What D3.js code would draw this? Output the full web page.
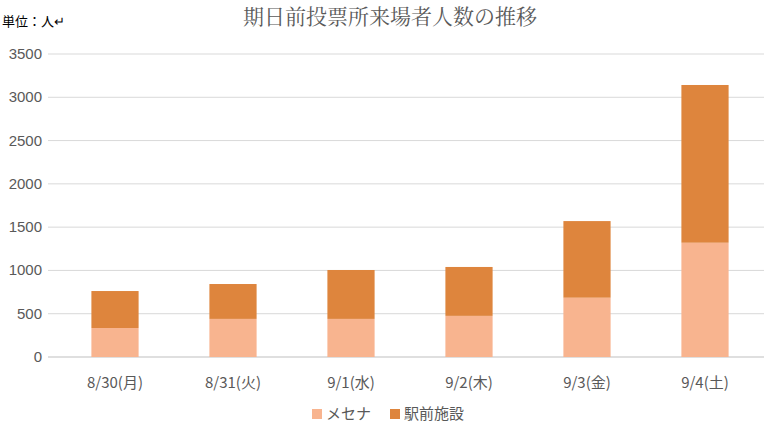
<!DOCTYPE html>
<html><head><meta charset="utf-8">
<script src="https://cdn.jsdelivr.net/npm/d3@7"></script>
<style>body{margin:0;background:#fff}</style></head>
<body><svg id="c" width="771" height="431"></svg>
<script>
const categories = ["8/30(月)","8/31(火)","9/1(水)","9/2(木)","9/3(金)","9/4(土)"];
const meseta = [335, 440, 440, 475, 685, 1320];
const ekimae = [427, 403, 565, 565, 885, 1822];
const seriesNames = ["メセナ","駅前施設"];
const colors = ["#F8B48F","#DE853D"];
const yTicks = [0,500,1000,1500,2000,2500,3000,3500];

const svg = d3.select("#c");
const font = "'Noto Sans CJK JP', sans-serif";
const x = d3.scaleBand().domain(categories).range([56,764]).paddingInner(0.6).paddingOuter(0.3);
const y = d3.scaleLinear().domain([0,3500]).range([357,54]);

svg.append("g").selectAll("line").data(yTicks).join("line")
  .attr("x1",48).attr("x2",764).attr("y1",d=>y(d)).attr("y2",d=>y(d))
  .attr("stroke",d=>d===0?"#bfbfbf":"#d9d9d9").attr("stroke-width",1);
svg.append("g").selectAll("text").data(yTicks).join("text")
  .attr("x",42).attr("y",d=>y(d)+5).attr("text-anchor","end")
  .attr("font-family","Liberation Sans, sans-serif").attr("font-size",15).attr("fill","#595959").text(d=>d);

const data = categories.map((c,i)=>({c, a:meseta[i], b:ekimae[i]}));
const stack = d3.stack().keys(["a","b"])(data);
stack.forEach((s,k)=>{
  svg.append("g").selectAll("rect").data(s).join("rect")
    .attr("x",d=>x(d.data.c)).attr("width",x.bandwidth())
    .attr("y",d=>y(d[1])).attr("height",d=>y(d[0])-y(d[1])).attr("fill",colors[k]);
});
svg.append("g").selectAll("text").data(categories).join("text")
  .attr("x",d=>x(d)+x.bandwidth()/2).attr("y",388).attr("text-anchor","middle")
  .attr("font-family",font).attr("font-size",15).attr("fill","#595959").text(d=>d);

svg.append("text").attr("x",390).attr("y",24).attr("text-anchor","middle")
  .attr("font-family","'Noto Serif CJK JP','Noto Sans CJK JP',serif").attr("font-size",21).attr("fill","#595959")
  .text("期日前投票所来場者人数の推移");
svg.append("text").attr("x",2).attr("y",26).attr("font-family",font).attr("font-size",13).attr("fill","#000").text("単位：人↵");

const lg = svg.append("g");
const lx = [312, 390];
seriesNames.forEach((n,i)=>{
  lg.append("rect").attr("x",lx[i]).attr("y",409).attr("width",10).attr("height",10).attr("fill",colors[i]);
  lg.append("text").attr("x",lx[i]+14).attr("y",419).attr("font-family",font).attr("font-size",15).attr("fill","#595959").text(n);
});
</script></body></html>
